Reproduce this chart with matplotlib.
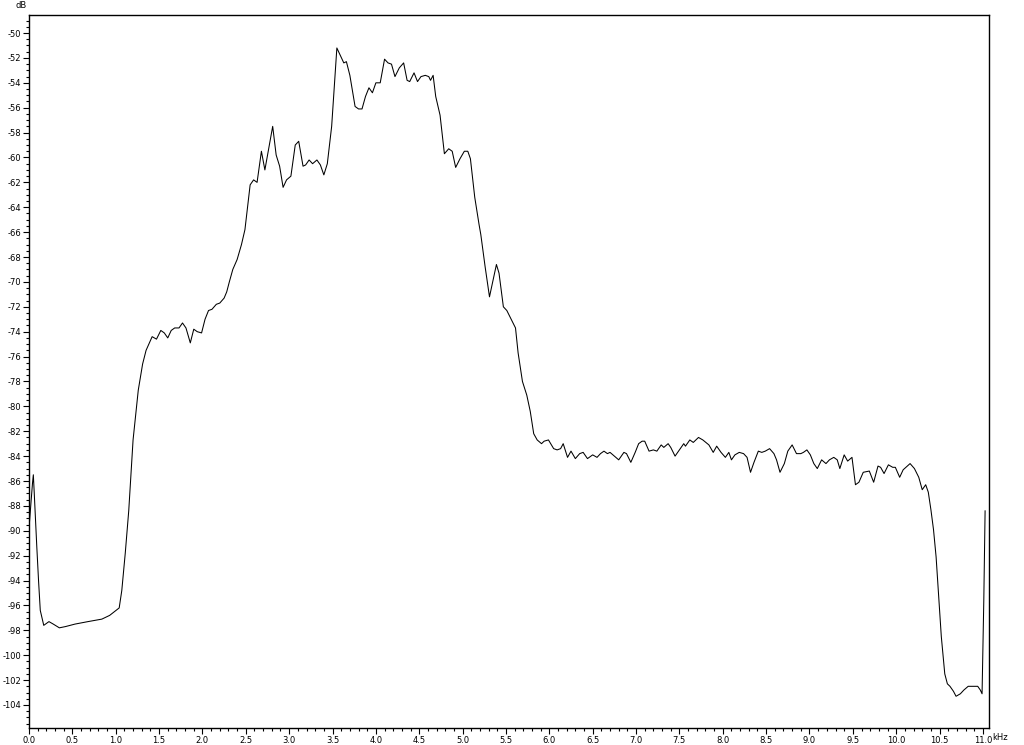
import numpy as np
import matplotlib
matplotlib.use("Agg")
import matplotlib.pyplot as plt
from matplotlib.ticker import MultipleLocator, FormatStrFormatter

# Espectro (frecuencia en kHz, nivel en dB)
freq_khz = [
    0.00, 0.04, 0.05, 0.06, 0.09, 0.11, 0.13, 0.17, 0.23, 0.28, 0.35, 0.42,
    0.53, 0.68, 0.84, 0.93, 1.04, 1.07, 1.11, 1.15, 1.20, 1.26, 1.31, 1.35,
    1.42, 1.47, 1.52, 1.56, 1.60, 1.64, 1.68, 1.73, 1.77, 1.81, 1.86, 1.90,
    1.94, 1.99, 2.03, 2.07, 2.11, 2.16, 2.20, 2.25, 2.28, 2.31, 2.35, 2.40,
    2.45, 2.49, 2.55, 2.59, 2.63, 2.68, 2.72, 2.81, 2.85, 2.89, 2.93, 2.97,
    3.02, 3.07, 3.11, 3.16, 3.19, 3.23, 3.27, 3.32, 3.36, 3.40, 3.44, 3.49,
    3.55, 3.59, 3.63, 3.66, 3.70, 3.76, 3.80, 3.84, 3.88, 3.92, 3.96, 4.00,
    4.05, 4.10, 4.14, 4.18, 4.22, 4.27, 4.32, 4.36, 4.39, 4.44, 4.48, 4.52,
    4.57, 4.61, 4.63, 4.66, 4.69, 4.74, 4.79, 4.84, 4.88, 4.92, 4.97, 5.02,
    5.06, 5.09, 5.14, 5.19, 5.21, 5.26, 5.31, 5.39, 5.42, 5.47, 5.51, 5.61,
    5.64, 5.69, 5.74, 5.78, 5.82, 5.86, 5.91, 5.94, 5.99, 6.05, 6.09, 6.13,
    6.16, 6.21, 6.25, 6.30, 6.35, 6.39, 6.44, 6.50, 6.55, 6.59, 6.63, 6.67,
    6.70, 6.75, 6.80, 6.86, 6.89, 6.94, 6.99, 7.03, 7.07, 7.10, 7.15, 7.20,
    7.24, 7.29, 7.32, 7.37, 7.40, 7.45, 7.50, 7.55, 7.57, 7.62, 7.66, 7.72,
    7.77, 7.84, 7.89, 7.93, 7.98, 8.03, 8.07, 8.10, 8.14, 8.19, 8.24, 8.28,
    8.32, 8.36, 8.41, 8.45, 8.49, 8.54, 8.59, 8.62, 8.66, 8.71, 8.75, 8.80,
    8.85, 8.90, 8.93, 8.97, 9.01, 9.05, 9.09, 9.14, 9.19, 9.23, 9.28, 9.32,
    9.35, 9.40, 9.44, 9.49, 9.53, 9.57, 9.62, 9.69, 9.74, 9.79, 9.82, 9.86,
    9.91, 9.96, 9.99, 10.04, 10.08, 10.16, 10.21, 10.26, 10.30, 10.34, 10.37,
    10.40, 10.43, 10.46, 10.49, 10.52, 10.56, 10.59, 10.62, 10.66, 10.69,
    10.74, 10.78, 10.83, 10.89, 10.94, 10.97, 10.99, 11.01, 11.025,
]
level_db = [
    -89.8, -86.2, -85.5, -86.9, -91.3, -94.0, -96.4, -97.6, -97.3, -97.5, -97.8, -97.7,
    -97.5, -97.3, -97.1, -96.8, -96.2, -94.8, -91.8, -88.4, -82.7, -78.7, -76.6, -75.5,
    -74.4, -74.6, -73.9, -74.1, -74.5, -73.9, -73.7, -73.7, -73.3, -73.7, -74.9, -73.8,
    -74.0, -74.1, -73.0, -72.3, -72.2, -71.8, -71.7, -71.3, -70.8, -70.0, -69.0, -68.2,
    -67.0, -65.8, -62.2, -61.8, -62.0, -59.5, -61.0, -57.5, -59.8, -60.7, -62.4, -61.8,
    -61.5, -59.0, -58.7, -60.7, -60.6, -60.2, -60.5, -60.2, -60.6, -61.4, -60.5, -57.5,
    -51.2, -51.8, -52.4, -52.3, -53.4, -55.9, -56.1, -56.1, -55.1, -54.4, -54.8, -54.0,
    -54.0, -52.1, -52.4, -52.5, -53.5, -52.8, -52.4, -53.8, -53.9, -53.2, -53.9, -53.5,
    -53.4, -53.5, -53.8, -53.4, -55.1, -56.6, -59.7, -59.3, -59.5, -60.8, -60.1, -59.5,
    -59.5, -60.1, -63.2, -65.4, -66.2, -68.8, -71.2, -68.6, -69.3, -72.0, -72.3, -73.7,
    -75.7, -78.0, -79.1, -80.4, -82.2, -82.7, -83.0, -82.8, -82.7, -83.4, -83.5, -83.4,
    -83.0, -84.1, -83.6, -84.2, -83.8, -83.7, -84.2, -83.9, -84.1, -83.8, -83.6, -83.8,
    -83.7, -84.0, -84.3, -83.7, -83.8, -84.5, -83.7, -83.0, -82.8, -82.8, -83.6, -83.5,
    -83.6, -83.1, -83.3, -83.0, -83.3, -84.0, -83.5, -83.0, -83.2, -82.7, -82.9, -82.5,
    -82.7, -83.1, -83.7, -83.2, -83.7, -84.1, -83.7, -84.3, -83.9, -83.7, -83.8, -84.1,
    -85.3, -84.5, -83.6, -83.7, -83.6, -83.4, -83.8, -84.3, -85.3, -84.6, -83.6, -83.1,
    -83.8, -83.8, -83.7, -83.5, -83.9, -84.6, -85.0, -84.3, -84.6, -84.3, -84.1, -84.3,
    -85.0, -83.9, -84.4, -84.1, -86.3, -86.1, -85.3, -85.2, -86.1, -84.8, -84.9, -85.4,
    -84.7, -84.9, -84.9, -85.7, -85.1, -84.6, -85.0, -85.7, -86.7, -86.3, -86.9,
    -88.3, -89.9, -92.1, -95.3, -98.5, -101.5, -102.3, -102.5, -102.9, -103.3,
    -103.1, -102.8, -102.5, -102.5, -102.5, -102.8, -103.1, -95.6, -88.4,
]

y_ticks = np.arange(-104, -49, 2)

fig = plt.figure(figsize=(10.24, 7.45), dpi=100)
ax = fig.add_axes([29 / 1024, 1 - 728 / 745, 960 / 1024, 713 / 745])

ax.plot(freq_khz, level_db, color="black", linewidth=0.75)

ax.set_xlim(0, 11.07)
ax.set_ylim(-105.85, -48.55)

ax.xaxis.set_major_locator(MultipleLocator(0.5))
ax.xaxis.set_minor_locator(MultipleLocator(0.1))
ax.xaxis.set_major_formatter(FormatStrFormatter("%.1f"))
ax.set_yticks(y_ticks)
ax.yaxis.set_minor_locator(MultipleLocator(0.5))
ax.yaxis.set_major_formatter(FormatStrFormatter("%d"))

ax.tick_params(which="both", direction="out", labelsize=6, width=0.8, pad=1.5)
ax.tick_params(which="major", length=4)
ax.tick_params(which="minor", length=2)

for s in ax.spines.values():
    s.set_linewidth(1.0)

fig.text(15 / 1024, 1 - 5 / 745, "dB", fontsize=6, ha="left", va="center")
fig.text(992 / 1024, 1 - 737 / 745, "kHz", fontsize=6, ha="left", va="center")

fig.savefig("out.png", dpi=100, facecolor="white")
